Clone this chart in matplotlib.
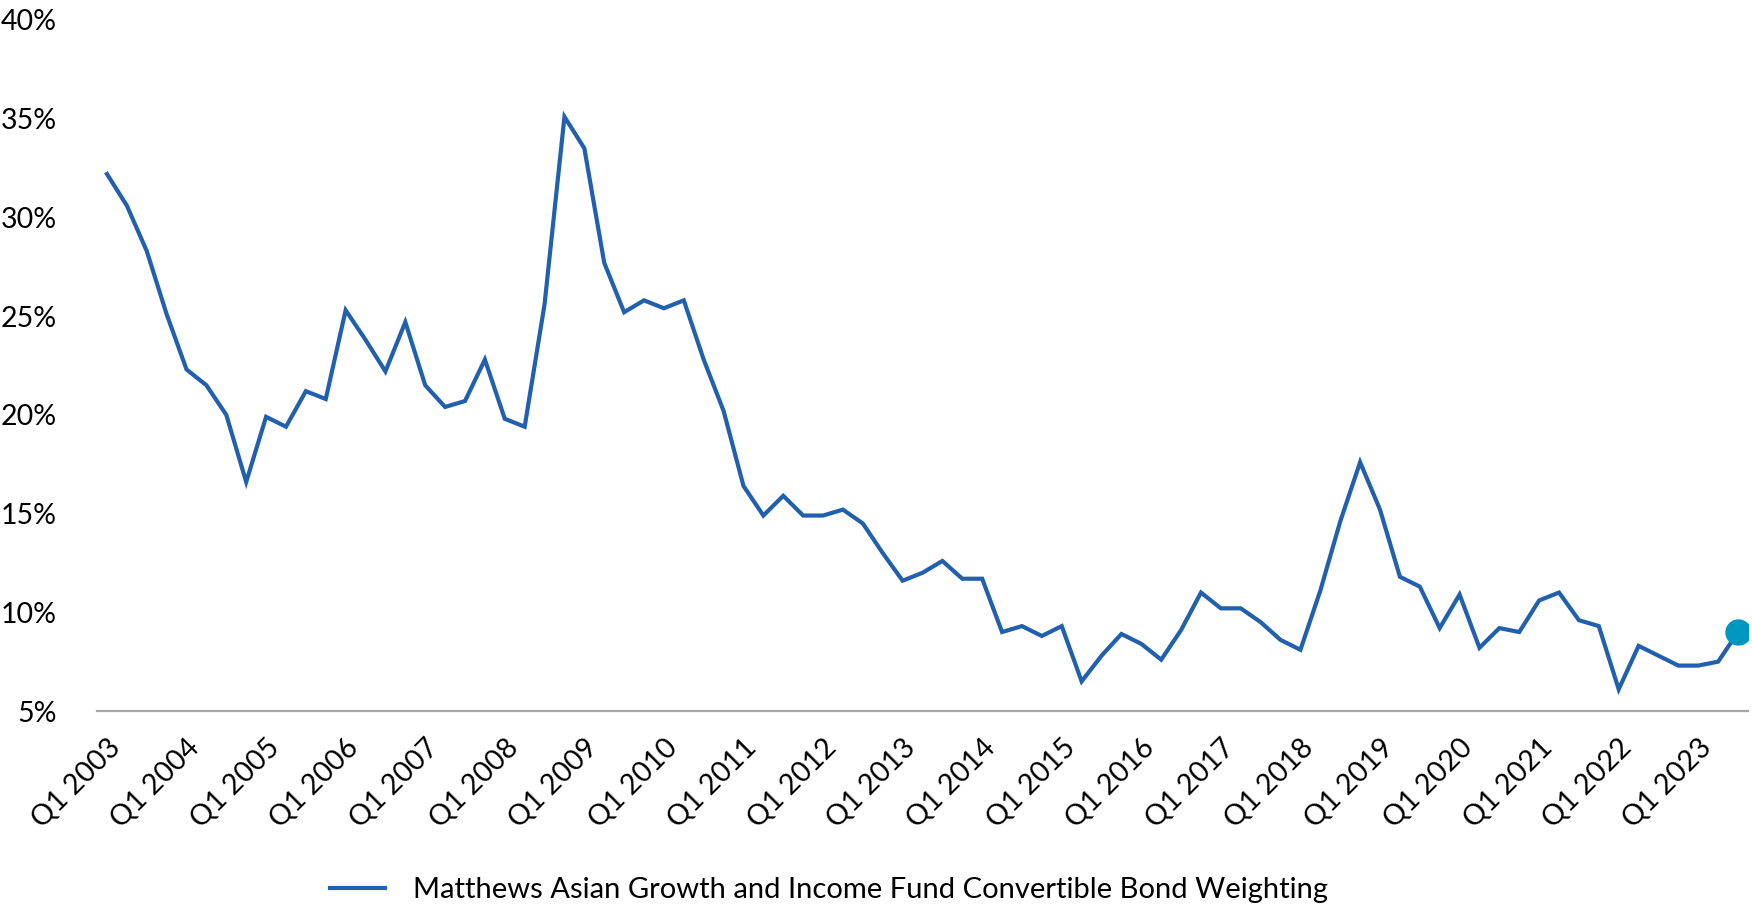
import numpy as np
import matplotlib
matplotlib.use('Agg')
import matplotlib.pyplot as plt
from matplotlib.ticker import FuncFormatter


# quarterly convertible bond weighting, Q1 2003 .. Q3 2023 (%)
years    = list(range(2003, 2024))
quarters = [f'Q{q} {y}' for y in years for q in (1, 2, 3, 4)][:83]

weight = [32.2, 30.6, 28.3, 25.1, 22.3, 21.5, 20.0, 16.6,
          19.9, 19.4, 21.2, 20.8, 25.3, 23.8, 22.2, 24.7,
          21.5, 20.4, 20.7, 22.8, 19.8, 19.4, 25.6, 35.1,
          33.5, 27.7, 25.2, 25.8, 25.4, 25.8, 22.8, 20.2,
          16.4, 14.9, 15.9, 14.9, 14.9, 15.2, 14.5, 13.0,
          11.6, 12.0, 12.6, 11.7, 11.7,  9.0,  9.3,  8.8,
           9.3,  6.5,  7.8,  8.9,  8.4,  7.6,  9.1, 11.0,
          10.2, 10.2,  9.5,  8.6,  8.1, 11.1, 14.6, 17.6,
          15.2, 11.8, 11.3,  9.2, 10.9,  8.2,  9.2,  9.0,
          10.6, 11.0,  9.6,  9.3,  6.1,  8.3,  7.8,  7.3,
           7.3,  7.5,  9.0]

yticks = [5, 10, 15, 20, 25, 30, 35, 40]
legend_txt = 'Matthews Asian Growth and Income Fund Convertible Bond Weighting'


plt.rcParams['font.family'] = ['Lato', 'DejaVu Sans']

fig = plt.figure(figsize = (17.52, 9.07), dpi = 100)
ax  = fig.add_axes([97 / 1752, 1 - 711 / 907, 1651 / 1752, 691 / 907])

x = np.arange(len(weight))

line, = ax.plot(x, weight, color = '#2160AE', lw = 3.0, solid_joinstyle = 'miter',
                label = legend_txt)
ax.plot(x[-1], weight[-1], 'o', color = '#0096C0', ms = 18, zorder = 5)

ax.set_xlim(-0.5, len(weight) - 0.5)
ax.set_ylim(5, 40)

ax.set_yticks(yticks)
ax.yaxis.set_major_formatter(FuncFormatter(lambda v, p: f'{v:.0f}%'))

tick_idx = [quarters.index(f'Q1 {y}') for y in years]
ax.set_xticks(tick_idx)
ax.set_xticklabels([quarters[i] for i in tick_idx], rotation = 45, ha = 'right',
                   rotation_mode = 'anchor')

ax.tick_params(axis = 'y', length = 0, pad = 29, labelsize = 20.5, labelcolor = '#000000')
ax.tick_params(axis = 'x', length = 0, pad = 17, labelsize = 20.5, labelcolor = '#000000')

for s in ['top', 'right', 'left']:
    ax.spines[s].set_visible(False)
ax.spines['bottom'].set_color('#A6A6A6')
ax.spines['bottom'].set_linewidth(1.6)

fig.legend([line], [legend_txt], loc = 'center left',
           bbox_to_anchor = (330 / 1752, 1 - 890 / 907),
           frameon = False, fontsize = 21, handlelength = 1.9,
           handletextpad = 0.95, borderpad = 0, borderaxespad = 0)

fig.savefig('out.png', dpi = 100)
